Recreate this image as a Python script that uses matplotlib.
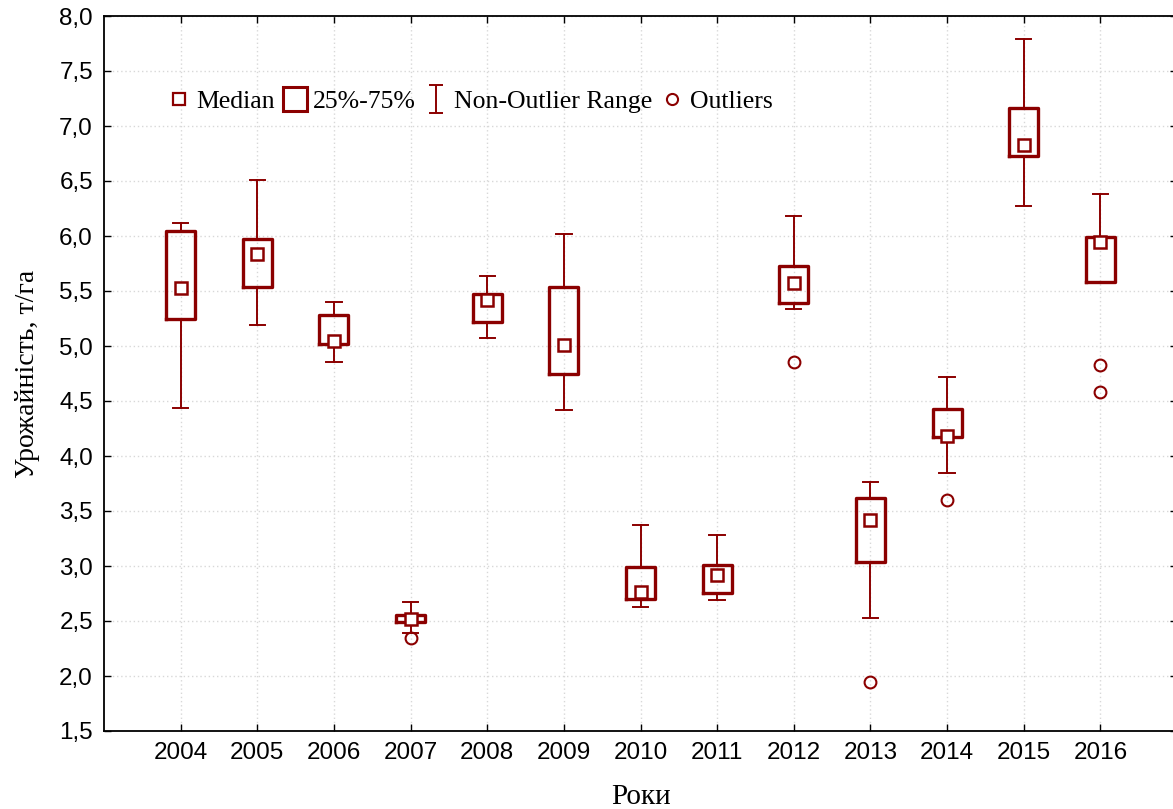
import matplotlib
matplotlib.use('Agg')
import matplotlib.pyplot as plt
from matplotlib.lines import Line2D
from matplotlib.path import Path
from matplotlib.ticker import FuncFormatter, MultipleLocator
import numpy as np

# yield per year
years = [2004, 2005, 2006, 2007, 2008, 2009, 2010, 2011, 2012, 2013, 2014, 2015, 2016]
whishi = [6.12, 6.51, 5.40, 2.67, 5.64, 6.02, 3.37, 3.285, 6.18, 3.76, 4.72, 7.79, 6.38]
q3 = [6.045, 5.97, 5.285, 2.555, 5.475, 5.535, 2.995, 3.005, 5.727, 3.62, 4.427, 7.164, 5.994]
med = [5.53, 5.84, 5.05, 2.52, 5.42, 5.01, 2.76, 2.915, 5.573, 3.415, 4.185, 6.83, 5.95]
q1 = [5.245, 5.535, 5.02, 2.49, 5.22, 4.745, 2.70, 2.757, 5.394, 3.04, 4.173, 6.727, 5.58]
whislo = [4.435, 5.19, 4.855, 2.39, 5.075, 4.42, 2.625, 2.695, 5.333, 2.525, 3.843, 6.273, 5.58]
outliers = [[], [], [], [2.35], [], [], [], [], [4.852], [1.945], [3.597], [], [4.825, 4.58]]

legend_labels = ['Median', '25%-75%', 'Non-Outlier Range', 'Outliers']
c = '#8b0000'

stats = []
for i in range(len(years)):
    stats.append(dict(med=med[i], mean=med[i], q1=q1[i], q3=q3[i],
                      whislo=whislo[i], whishi=whishi[i], fliers=outliers[i]))

fig = plt.figure(figsize=(11.73, 8.09), dpi=100)
# right edge runs a little past the image, like the original
ax = fig.add_axes([104 / 1173, 78 / 809, 1073 / 1173, 715 / 809])

ax.bxp(stats, positions=years, widths=0.38, capwidths=0.2, showmeans=True,
       boxprops=dict(color=c, linewidth=2.4),
       whiskerprops=dict(color=c, linewidth=1.4),
       capprops=dict(color=c, linewidth=1.4),
       medianprops=dict(visible=False),
       meanprops=dict(marker='s', markersize=9, markerfacecolor='white',
                      markeredgecolor=c, markeredgewidth=1.8, zorder=4),
       flierprops=dict(marker='o', markersize=8.5, markerfacecolor='none',
                       markeredgecolor=c, markeredgewidth=1.5))

ax.set_xlim(2003, 2017)
ax.set_ylim(1.5, 8.0)
ax.set_xticks(years)
ax.set_xticklabels([str(y) for y in years])
ax.yaxis.set_major_locator(MultipleLocator(0.5))
ax.yaxis.set_major_formatter(FuncFormatter(lambda v, p: f'{v:.1f}'.replace('.', ',')))

ax.grid(True, linestyle=(0, (1, 2)), color='#d8d8d8', linewidth=1)
ax.set_axisbelow(True)
ax.tick_params(direction='in', top=True, right=True, length=5, width=1,
               labelsize=17.5, labelfontfamily='Liberation Sans', pad=8)
for s in ax.spines.values():
    s.set_linewidth(1.3)

ax.set_xlabel('Роки', family='Liberation Serif', fontsize=21, labelpad=14)
ax.set_ylabel('Урожайність, т/га', family='Liberation Serif', fontsize=20, labelpad=14)

# legend handles
ibeam = Path([(-0.5, 1), (0.5, 1), (0, 1), (0, -1), (-0.5, -1), (0.5, -1)],
             [Path.MOVETO, Path.LINETO, Path.MOVETO, Path.LINETO, Path.MOVETO, Path.LINETO])
handles = [
    Line2D([], [], ls='none', marker='s', ms=8, mfc='white', mec=c, mew=1.6),
    Line2D([], [], ls='none', marker='s', ms=17, mfc='white', mec=c, mew=2.2),
    Line2D([], [], ls='none', marker=ibeam, ms=20, mec=c, mew=1.4),
    Line2D([], [], ls='none', marker='o', ms=8, mfc='none', mec=c, mew=1.5),
]
ax.legend(handles, legend_labels, loc='center left', bbox_to_anchor=(0.048, 0.881),
          ncol=4, frameon=False, handlelength=0.8, handletextpad=0.3,
          columnspacing=0.38, borderpad=0, prop=dict(family='Liberation Serif', size=18.5))

fig.savefig('out.png', dpi=100)
